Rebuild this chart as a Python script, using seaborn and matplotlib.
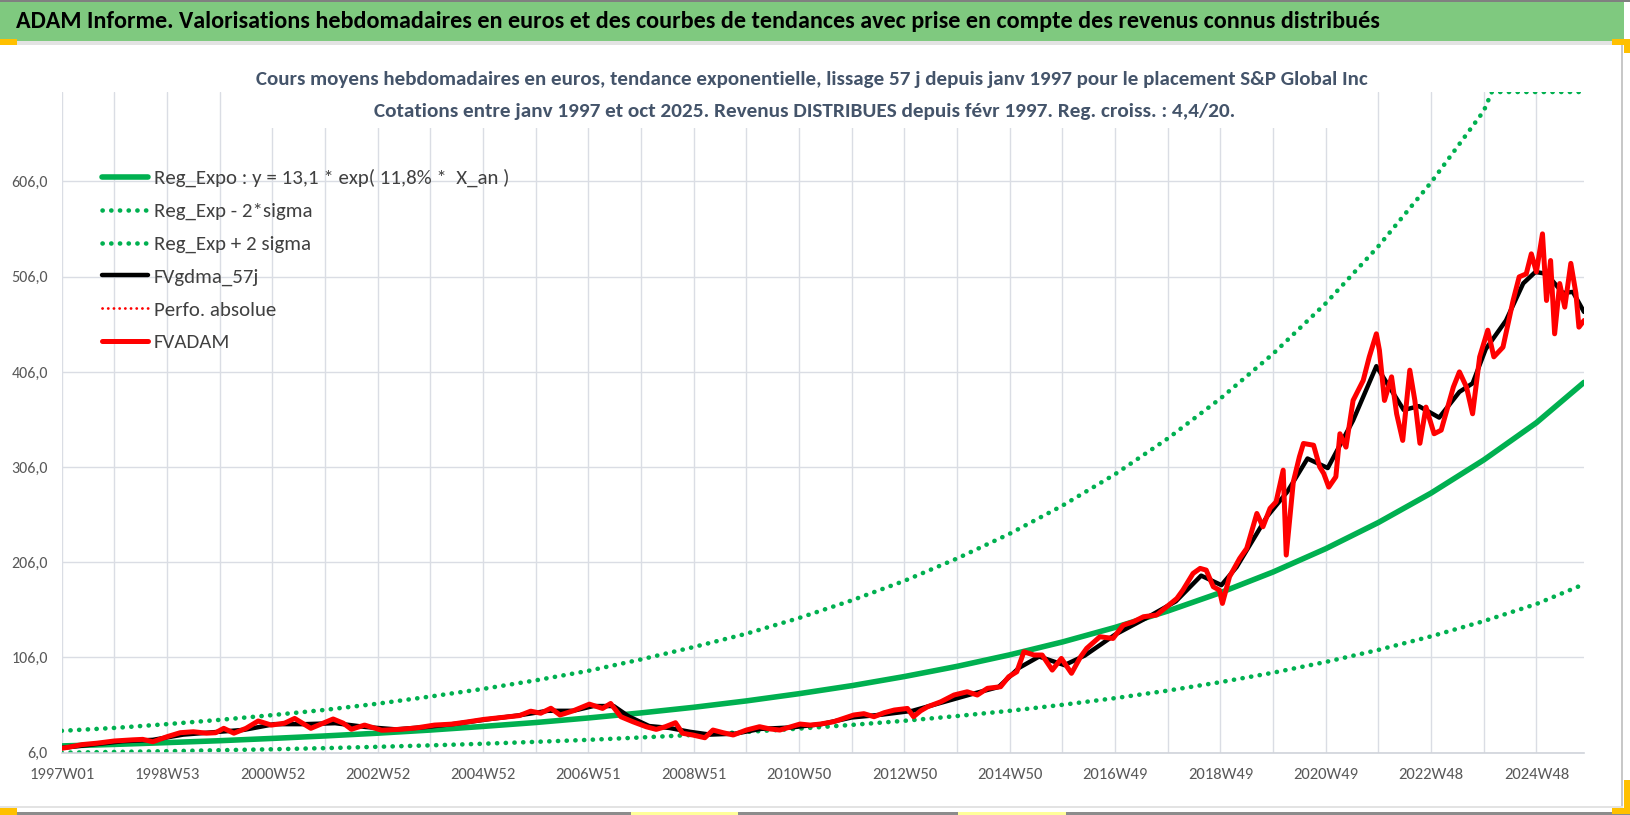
import matplotlib
matplotlib.use("Agg")
import matplotlib.pyplot as plt
import seaborn as sns
import pandas as pd
from matplotlib import font_manager
from matplotlib.patches import Rectangle
from matplotlib.ticker import FixedLocator, FixedFormatter

# ---------------- data ----------------
title = ("ADAM Informe. Valorisations hebdomadaires en euros et des courbes de tendances "
         "avec prise en compte des revenus connus distribués")
subtitle_1 = ("Cours moyens hebdomadaires en euros, tendance exponentielle, lissage 57 j "
              "depuis janv 1997 pour le placement S&P Global Inc")
subtitle_2 = ("Cotations entre janv 1997 et oct 2025. Revenus DISTRIBUES depuis févr 1997. "
              "Reg. croiss. : 4,4/20.")

week_labels = ["1997W01", "1998W53", "2000W52", "2002W52", "2004W52", "2006W51", "2008W51",
               "2010W50", "2012W50", "2014W50", "2016W49", "2018W49", "2020W49", "2022W48",
               "2024W48"]
last_week = 1503
y_ticks = [6, 106, 206, 306, 406, 506, 606]

# yearly points of the trend curves (week index from 1997W01)
band_weeks = list(range(0, 1457, 52)) + [1503]
reg_expo = [13.1, 14.7, 16.6, 18.6, 21.0, 23.6, 26.5, 29.8, 33.6, 37.7, 42.5, 47.8, 53.7,
            60.4, 68.0, 76.4, 86.0, 96.7, 108.8, 122.3, 137.6, 154.8, 174.1, 195.8, 220.3,
            247.8, 278.7, 313.5, 352.6, 395.0]
reg_minus = [6.0, 6.8, 7.6, 8.6, 9.6, 10.8, 12.2, 13.7, 15.4, 17.4, 19.5, 22.0, 24.7, 27.8,
             31.3, 35.2, 39.5, 44.5, 50.0, 56.3, 63.3, 71.2, 80.1, 90.0, 101.3, 114.0, 128.2,
             144.2, 162.2, 183.0]
plus_weeks = list(range(0, 1405, 52)) + [1412, 1503]
reg_plus = [29, 32, 36, 40.5, 45.5, 51, 57.5, 65, 73, 82, 92, 104, 117, 131, 147.5, 166,
            186.5, 210, 236, 265.5, 298.5, 336, 378, 425, 478, 538, 605, 680, 700, 700]

smooth_weeks = [0, 30, 60, 90, 120, 150, 180, 210, 240, 270, 300, 330, 360, 390, 420, 450,
                480, 505, 525, 545, 560, 580, 600, 620, 640, 665, 690, 720, 750, 780, 810,
                840, 870, 900, 925, 945, 965, 990, 1010, 1040, 1070, 1100, 1125, 1145, 1160,
                1190, 1210, 1230, 1250, 1275, 1298, 1325, 1340, 1360, 1380, 1393, 1406, 1426,
                1443, 1455, 1466, 1482, 1492, 1503]
fv_gdma = [11, 14.5, 18, 19.5, 25, 27.5, 30, 36, 36, 37, 33, 30.5, 33, 36.5, 41, 45, 50,
           50, 55, 55, 44, 34, 32, 28, 25, 26, 31, 32.5, 36, 43, 46, 50, 59, 68, 75, 95,
           107, 98, 108, 130, 147, 165, 192, 182, 201, 254, 280, 315, 305, 355, 412, 366,
           370, 358, 385, 394, 430, 460, 499, 511, 509, 489, 490, 469]

price_weeks = [0, 8, 20, 35, 52, 70, 80, 90, 104, 117, 130, 143, 152, 160, 170, 182, 194,
               207, 220, 230, 246, 256, 268, 278, 286, 299, 316, 335, 350, 368, 385, 401,
               417, 439, 452, 463, 473, 483, 492, 505, 521, 534, 542, 552, 564, 577, 587,
               596, 606, 613, 623, 635, 643, 653, 663, 676, 689, 699, 709, 719, 729, 739,
               749, 762, 772, 782, 792, 802, 812, 822, 835, 841, 848, 855, 868, 881, 894,
               904, 914, 927, 935, 943, 950, 960, 968, 978, 987, 997, 1006, 1012, 1025,
               1038, 1048, 1058, 1068, 1081, 1091, 1101, 1107, 1117, 1124, 1130, 1137, 1143,
               1146, 1153, 1163, 1170, 1180, 1186, 1193, 1199, 1206, 1209, 1216, 1222, 1226,
               1236, 1242, 1246, 1251, 1258, 1262, 1268, 1275, 1285, 1291, 1298, 1301, 1306,
               1313, 1318, 1324, 1331, 1336, 1341, 1347, 1355, 1362, 1374, 1380, 1387, 1393,
               1400, 1408, 1414, 1423, 1433, 1439, 1446, 1451, 1456, 1462, 1466, 1470, 1474,
               1479, 1484, 1490, 1495, 1498, 1503]
fv_adam = [10.6, 12, 14.5, 16, 18.3, 19.5, 20, 17.5, 22.8, 27, 28, 26.5, 27, 31.6, 26.5,
           31.6, 39.3, 35, 37, 42, 31.6, 36, 41.4, 37, 30.6, 35, 29.6, 30.6, 32, 35, 36,
           38.4, 41, 43.5, 45, 49.6, 47.5, 52.7, 45.6, 50, 57, 52.5, 57.7, 43.8, 38.5, 33.3,
           30.5, 33.3, 37.5, 26.4, 24.6, 21.7, 29.8, 27, 24.6, 29.8, 33.3, 31, 29.8, 33,
           36.1, 35, 36.1, 38.5, 42, 45.6, 47, 43.8, 48, 50.8, 52.5, 43.8, 50, 54.3, 59.5,
           66.6, 70, 66.6, 73.6, 75.3, 85.8, 91, 112, 108.6, 108.6, 92.8, 105, 89.4, 106.8,
           115.6, 127.8, 126, 140, 143.5, 148.8, 150.6, 159.3, 168, 176.8, 194.3, 199.6,
           197.8, 180.3, 176.8, 162.8, 190.8, 210, 220.6, 257.3, 243.3, 262.6, 269.5, 302.8,
           213.6, 290.5, 316.8, 330.8, 329, 306.3, 299.3, 285, 295.8, 341, 327, 376, 397,
           421.8, 446, 428.8, 376, 400.8, 362, 334, 407.8, 376, 331, 369, 341, 344.8, 390,
           406, 390, 362, 421.8, 449.8, 421.8, 432, 481, 505.8, 509, 530, 511, 551, 481, 523,
           446, 498.8, 474, 520, 488.6, 453, 460]

legend_labels = ["Reg_Expo : y = 13,1 * exp( 11,8% *  X_an )", "Reg_Exp - 2*sigma",
                 "Reg_Exp + 2 sigma", "FVgdma_57j", "Perfo. absolue", "FVADAM"]

# ---------------- style ----------------
sns.set_style("white")
avail = {f.name for f in font_manager.fontManager.ttflist}
base_font = next((f for f in ["Carlito", "Lato", "Open Sans"] if f in avail), "DejaVu Sans")
plt.rcParams["font.family"] = [base_font, "DejaVu Sans"]

GREEN = "#00b050"
GRID = "#dadde4"
TXT = "#595959"

W, H = 1630, 815
fig = plt.figure(figsize=(W / 100, H / 100), dpi=100)
fig.patch.set_facecolor("white")


def fx(x):
    return x / W


def fy(y):
    return 1 - y / H


ax = fig.add_axes([fx(61.7), fy(752.7), (1584 - 61.7) / W, (752.7 - 92) / H])

trend = pd.DataFrame({"week": band_weeks, "reg": reg_expo, "minus": reg_minus})
upper = pd.DataFrame({"week": plus_weeks, "plus": reg_plus})
smooth = pd.DataFrame({"week": smooth_weeks, "gdma": fv_gdma})
price = pd.DataFrame({"week": price_weeks, "adam": fv_adam})

dots = dict(linestyle=(0, (0.05, 1.85)), dash_capstyle="round")

sns.lineplot(data=trend, x="week", y="reg", color=GREEN, lw=4.0, ax=ax,
             label=legend_labels[0], errorbar=None)
sns.lineplot(data=trend, x="week", y="minus", color=GREEN, lw=3.3, ax=ax,
             label=legend_labels[1], errorbar=None, **dots)
sns.lineplot(data=upper, x="week", y="plus", color=GREEN, lw=3.3, ax=ax,
             label=legend_labels[2], errorbar=None, **dots)
sns.lineplot(data=smooth, x="week", y="gdma", color="black", lw=3.2, ax=ax,
             label=legend_labels[3], errorbar=None)
sns.lineplot(data=price, x="week", y="adam", color="#ff0000", lw=2.0, ax=ax,
             label=legend_labels[4], errorbar=None,
             linestyle=(0, (0.05, 2.0)), dash_capstyle="round")
sns.lineplot(data=price, x="week", y="adam", color="#ff0000", lw=3.6, ax=ax,
             label=legend_labels[5], errorbar=None)

ax.set_xlim(0, last_week)
ax.set_ylim(6, 700)
ax.set_xlabel("")
ax.set_ylabel("")

major = [104 * i for i in range(len(week_labels))]
ax.xaxis.set_major_locator(FixedLocator(major))
ax.xaxis.set_major_formatter(FixedFormatter(week_labels))
ax.xaxis.set_minor_locator(FixedLocator([m + 52 for m in major if m + 52 < last_week]))
ax.yaxis.set_major_locator(FixedLocator(y_ticks))
ax.yaxis.set_major_formatter(FixedFormatter([f"{v:.1f}".replace(".", ",") for v in y_ticks]))

ax.grid(True, which="both", axis="x", color=GRID, lw=1.0)
ax.grid(True, which="major", axis="y", color=GRID, lw=1.0)
ax.set_axisbelow(True)
for side in ["top", "right", "left"]:
    ax.spines[side].set_visible(False)
ax.spines["bottom"].set_color("#d0d3da")
ax.spines["bottom"].set_linewidth(1.2)
ax.tick_params(axis="x", which="both", length=4, width=1, color="#d0d3da", pad=7,
               labelsize=12, labelcolor=TXT)
ax.tick_params(axis="y", length=0, pad=10, labelsize=11.5, labelcolor=TXT)

leg = ax.legend(loc="upper left", bbox_to_anchor=(fx(102), fy(169)),
                bbox_transform=fig.transFigure, frameon=False, fontsize=15,
                handlelength=2.2, handletextpad=0.3, labelspacing=0.72,
                borderaxespad=0, borderpad=0)
for t in leg.get_texts():
    t.set_color("#404040")

# ---------------- frame, banner, titles ----------------
deco = [
    ((0, 0, W, 2), "#808080"),
    ((0, 2, 1624, 39), "#7fc97f"),
    ((0, 41, 1624, 4), "#e3e3e3"),
    ((1621, 45, 2, 762), "#c8c8c8"),
    ((0, 806, 1623, 2), "#e3e3e3"),
    ((0, 812, W, 3), "#8c8c8c"),
    ((250, 92, 1100, 36), "white"),
    ((0, 39, 17, 6), "#ffc000"),
    ((1612, 39, 18, 6), "#ffc000"),
    ((1624, 39, 6, 14), "#ffc000"),
    ((1624, 780, 6, 34), "#ffc000"),
    ((1612, 808, 18, 6), "#ffc000"),
    ((0, 808, 17, 7), "#ffc000"),
    ((631, 812, 107, 3), "#ffff99"),
    ((958, 812, 108, 3), "#ffff99"),
]
for (x, y, w, h), c in deco:
    fig.add_artist(Rectangle((fx(x), fy(y + h)), w / W, h / H, transform=fig.transFigure,
                             facecolor=c, edgecolor="none", zorder=2))

t_title = fig.text(fx(16), fy(22), title, ha="left", va="center", fontsize=15,
                   fontweight="bold", color="black", zorder=3)
t_sub1 = fig.text(fx(812), fy(80), subtitle_1, ha="center", va="center", fontsize=13,
                  fontweight="bold", color="#44546a", zorder=3)
t_sub2 = fig.text(fx(805), fy(112), subtitle_2, ha="center", va="center", fontsize=13,
                  fontweight="bold", color="#44546a", zorder=3)

# fit text widths to the reference
fig.canvas.draw()
for t, target in [(t_title, 1369), (t_sub1, 1110), (t_sub2, 865)]:
    w = t.get_window_extent().width
    t.set_fontsize(t.get_fontsize() * target / w)

fig.savefig("out.png", dpi=100)
